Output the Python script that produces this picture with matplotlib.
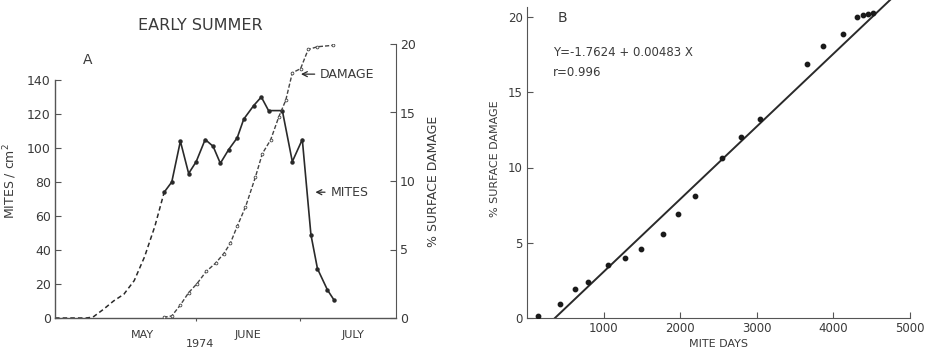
import matplotlib
matplotlib.use("Agg")
import matplotlib.pyplot as plt
import numpy as np

plt.rcParams['font.family'] = ['DejaVu Sans']

# ---- Panel A data (x = days after 1 May 1974) ----
mites_dash_days = [-10, -7, -4, -1, 1, 4, 7, 10, 13, 16, 19, 21.7]
mites_dash_vals = [0, 0, 0, 0, 0.5, 5, 10, 14, 22, 36, 54, 74]
mites_days = [21.7, 23.9, 26.4, 28.8, 31.0, 33.6, 35.9, 38.0, 40.4, 42.9, 44.8,
              47.7, 49.9, 52.0, 56.0, 58.9, 61.8, 64.3, 66.2, 69.1, 71.0]
mites_vals = [74, 80, 104, 85, 92, 105, 101, 91, 99, 106, 117,
              125, 130, 122, 122, 92, 105, 49, 29, 16.5, 10.6]
damage_days = [21.5, 23.9, 26.4, 28.8, 31.2, 33.9, 36.6, 39.0, 40.9, 42.9, 45.3,
               48.2, 50.2, 52.6, 55.0, 57.0, 58.9, 61.3, 63.5, 66.2, 70.6]
damage_vals = [0.05, 0.15, 0.95, 1.85, 2.5, 3.4, 4.0, 4.7, 5.45, 6.7, 8.1,
               10.3, 12.0, 13.0, 14.7, 15.9, 17.9, 18.2, 19.6, 19.8, 19.9]
month_labels = ['MAY', 'JUNE', 'JULY']
month_centers = [15.5, 46, 76.5]
month_bounds = [31, 61]

# ---- Panel B data ----
mite_days = [148, 431, 627, 800, 1062, 1279, 1484, 1771, 1975, 2197, 2550,
             2790, 3042, 3660, 3860, 4130, 4304, 4391, 4456, 4521]
surface_damage = [0.1, 0.95, 1.9, 2.4, 3.5, 4.0, 4.6, 5.6, 6.9, 8.1, 10.6,
                  12.0, 13.2, 16.9, 18.1, 18.9, 20.0, 20.15, 20.2, 20.25]
fit_intercept = -1.7624
fit_slope = 0.00483

ink = '#2a2a2a'
txt = '#3a3a3a'

fig = plt.figure(figsize=(9.25, 3.54), dpi=100)

# ---------------- Panel A ----------------
axA = fig.add_axes([55/925, 1-318/354, (396-55)/925, (318-44)/354])
axA.set_xlim(-10, 89)
axA.set_ylim(0, 140 + 36/1.7)
axA.plot(mites_dash_days, mites_dash_vals, color=ink, lw=1.1, ls=(0, (3, 2)))
axA.plot(mites_days, mites_vals, color=ink, lw=1.2, marker='o', ms=2.2)
axA.spines['top'].set_visible(False)
axA.spines['right'].set_visible(False)
axA.spines['left'].set_bounds(0, 140)
for s in ['left', 'bottom']:
    axA.spines[s].set_color('#555')
    axA.spines[s].set_linewidth(1.0)
axA.set_yticks(range(0, 141, 20))
axA.set_yticklabels([str(v) for v in range(0, 141, 20)], fontsize=9, color=txt)
axA.tick_params(axis='y', direction='in', length=4, pad=3, color='#555')
axA.set_xticks(month_bounds)
axA.set_xticklabels([])
axA.tick_params(axis='x', direction='out', length=2, color='#555')
for lab, c in zip(month_labels, month_centers):
    axA.text(c, -0.045, lab, transform=axA.get_xaxis_transform(), ha='center',
             va='top', fontsize=8, color=txt)
fig.text(200/925, 1-344/354, '1974', ha='center', va='center',
         fontsize=8, color=txt)
axA.set_ylabel('MITES / cm$^2$', fontsize=9, color=txt, labelpad=6)

axA2 = axA.twinx()
axA2.set_ylim(0, 20)
axA2.plot(damage_days, damage_vals, color='#444', lw=1.0, ls=(0, (3, 1.5)),
          marker='o', ms=2.0, mfc='white', mec='#444', mew=0.6)
for s in ['top', 'left', 'bottom']:
    axA2.spines[s].set_visible(False)
axA2.spines['right'].set_color('#555')
axA2.set_yticks([0, 5, 10, 15, 20])
axA2.set_yticklabels(['0', '5', '10', '15', '20'], fontsize=9, color=txt)
axA2.tick_params(axis='y', direction='in', length=4, pad=3, color='#555')
axA2.set_ylabel('% SURFACE DAMAGE', fontsize=9, color=txt, labelpad=8)

axA2.annotate('DAMAGE', xy=(60.6, 17.8), xytext=(67.0, 17.8), fontsize=9,
              color=txt, va='center', ha='left',
              arrowprops=dict(arrowstyle='->', color=ink, lw=0.9))
axA.annotate('MITES', xy=(64.8, 74), xytext=(70.0, 74), fontsize=9,
             color=txt, va='center', ha='left',
             arrowprops=dict(arrowstyle='->', color=ink, lw=0.9))

fig.text(200/925, 1-25/354, 'EARLY SUMMER', ha='center', va='center',
         fontsize=11.5, color=txt)
fig.text(88/925, 1-60/354, 'A', ha='center', va='center', fontsize=10, color=txt)

# ---------------- Panel B ----------------
axB = fig.add_axes([527/925, 1-318/354, (910-527)/925, 318/354])
axB.set_xlim(0, 5000)
axB.set_ylim(0, 20 + 17/15.05)
xs = np.array([-fit_intercept/fit_slope, 5000])
axB.plot(xs, fit_intercept + fit_slope*xs, color=ink, lw=1.4)
axB.scatter(mite_days, surface_damage, s=10, color='#1a1a1a', zorder=3)
axB.spines['top'].set_visible(False)
axB.spines['right'].set_visible(False)
axB.spines['left'].set_bounds(0, 20.66)
for s in ['left', 'bottom']:
    axB.spines[s].set_color('#555')
axB.set_xticks([1000, 2000, 3000, 4000, 5000])
axB.set_xticklabels(['1000', '2000', '3000', '4000', '5000'], fontsize=8.5, color=txt)
axB.set_yticks([0, 5, 10, 15, 20])
axB.set_yticklabels(['0', '5', '10', '15', '20'], fontsize=8.5, color=txt)
axB.tick_params(direction='in', length=4, pad=3, color='#555')
axB.set_xlabel('MITE DAYS', fontsize=8, color=txt, labelpad=3)
axB.set_ylabel('% SURFACE DAMAGE', fontsize=8, color=txt, labelpad=6)
axB.text(553/925, 1-53/354, 'Y=-1.7624 + 0.00483 X', transform=fig.transFigure,
         ha='left', va='center', fontsize=8.5, color=txt)
axB.text(553/925, 1-73/354, 'r=0.996', transform=fig.transFigure,
         ha='left', va='center', fontsize=8.5, color=txt)
fig.text(562/925, 1-18/354, 'B', ha='center', va='center', fontsize=10, color=txt)

fig.savefig('out.png', dpi=100)
